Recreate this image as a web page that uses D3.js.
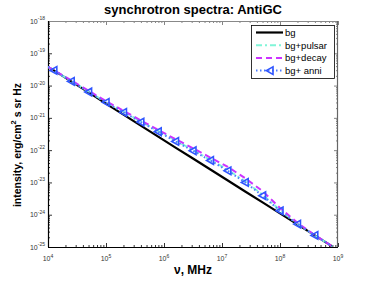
<!DOCTYPE html>
<html>
<head>
<meta charset="utf-8">
<script src="https://cdn.jsdelivr.net/npm/d3@7"></script>
<style>
  body { margin: 0; background: #fff; }
  svg { font-family: "Liberation Sans", Arial, sans-serif; }
</style>
</head>
<body>
<div id="chart"></div>
<script>
// frequencies, MHz
const nu = [1e4, 1.26e4, 2.51e4, 5.01e4, 1e5, 2e5, 3.98e5, 7.94e5, 1.58e6, 3.16e6,
            6.31e6, 1.26e7, 2.51e7, 5.01e7, 1e8, 2e8, 3.98e8, 7.94e8];

// intensity, erg/cm^2 s sr Hz
const bg = [3.80e-20, 2.95e-20, 1.35e-20, 6.17e-21, 2.75e-21, 1.26e-21, 5.75e-22, 2.63e-22, 1.20e-22, 5.50e-23,
            2.51e-23, 1.15e-23, 5.25e-24, 2.40e-24, 1.10e-24, 5.01e-25, 2.29e-25, 1.05e-25];
const bgPulsar = [3.80e-20, 2.95e-20, 1.38e-20, 6.46e-21, 3.09e-21, 1.55e-21, 7.76e-22, 3.89e-22, 2.00e-22, 1.00e-22,
                  5.01e-23, 2.45e-23, 1.07e-23, 4.17e-24, 1.38e-24, 5.25e-25, 2.29e-25, 1.05e-25];
const bgDecay = [3.80e-20, 3.02e-20, 1.45e-20, 6.92e-21, 3.31e-21, 1.66e-21, 8.32e-22, 4.27e-22, 2.19e-22, 1.15e-22,
                 5.89e-23, 3.02e-23, 1.35e-23, 5.37e-24, 1.62e-24, 5.62e-25, 2.34e-25, 1.05e-25];
const bgAnni = [3.80e-20, 2.95e-20, 1.35e-20, 6.31e-21, 3.02e-21, 1.48e-21, 7.41e-22, 3.72e-22, 1.86e-22, 9.55e-23,
                4.79e-23, 2.29e-23, 1.00e-23, 3.89e-24, 1.32e-24, 5.13e-25, 2.29e-25, 1.05e-25];

const seriesNames = ["bg", "bg+pulsar", "bg+decay", "bg+ anni"];
const xTickExp = [4, 5, 6, 7, 8, 9];
const yTickExp = [-18, -19, -20, -21, -22, -23, -24, -25];

const width = 374, height = 281;
const margin = {top: 21, right: 36, bottom: 34, left: 48};

const svg = d3.select("#chart").append("svg")
    .attr("width", width)
    .attr("height", height);

const x = d3.scaleLog().domain([1e4, 1e9]).range([margin.left, width - margin.right]);
const y = d3.scaleLog().domain([1e-25, 1e-18]).range([height - margin.bottom, margin.top]);

const x0 = x.range()[0], x1 = x.range()[1];
const y0 = y.range()[0], y1 = y.range()[1];

// minor tick values for log axes
function minors(lo, hi) {
  let out = [];
  for (let e = lo; e < hi; e++) {
    for (let k = 2; k <= 9; k++) out.push(k * Math.pow(10, e));
  }
  return out;
}
const xMajor = xTickExp.map(e => Math.pow(10, e));
const yMajor = yTickExp.map(e => Math.pow(10, e));

// ticks (inward, on all four sides)
function tickAxis(axisFn, scale, vals, size, tx, ty, color) {
  const g = svg.append("g")
      .attr("transform", "translate(" + tx + "," + ty + ")")
      .call(axisFn(scale).tickValues(vals).tickSize(size).tickFormat(""));
  g.select(".domain").remove();
  g.selectAll(".tick line").attr("stroke", color).attr("stroke-width", 0.8);
  return g;
}
tickAxis(d3.axisBottom, x, minors(4, 9), -2, 0, y0, "#000");
tickAxis(d3.axisBottom, x, xMajor, -4, 0, y0, "#000");
tickAxis(d3.axisTop, x, minors(4, 9), -2, 0, y1, "#666");
tickAxis(d3.axisTop, x, xMajor, -4, 0, y1, "#666");
tickAxis(d3.axisLeft, y, minors(-25, -18), -2, x0, 0, "#000");
tickAxis(d3.axisLeft, y, yMajor, -4, x0, 0, "#000");
tickAxis(d3.axisRight, y, minors(-25, -18), -2, x1, 0, "#666");
tickAxis(d3.axisRight, y, yMajor, -4, x1, 0, "#666");

// box
svg.append("line").attr("x1", x0).attr("x2", x1).attr("y1", y1 + 0.5).attr("y2", y1 + 0.5)
  .attr("stroke", "#888").attr("stroke-width", 1.2);
svg.append("line").attr("x1", x1 - 0.5).attr("x2", x1 - 0.5).attr("y1", y1).attr("y2", y0)
  .attr("stroke", "#666").attr("stroke-width", 1.2);
svg.append("line").attr("x1", x0).attr("x2", x1).attr("y1", y0 + 0.5).attr("y2", y0 + 0.5)
  .attr("stroke", "#000").attr("stroke-width", 1.2);
svg.append("line").attr("x1", x0 + 0.5).attr("x2", x0 + 0.5).attr("y1", y1).attr("y2", y0)
  .attr("stroke", "#000").attr("stroke-width", 1.2);

// tick labels with superscripts
xTickExp.forEach(e => {
  const t = svg.append("text")
      .attr("x", x(Math.pow(10, e)))
      .attr("y", y0 + 14)
      .attr("text-anchor", "middle")
      .attr("font-size", 7)
      .attr("fill", "#333");
  t.append("tspan").text("10");
  t.append("tspan").attr("font-size", 5).attr("dy", -3).text(e);
});
yTickExp.forEach(e => {
  const t = svg.append("text")
      .attr("x", x0 - 3)
      .attr("y", y(Math.pow(10, e)) + 2.5)
      .attr("text-anchor", "end")
      .attr("font-size", 7)
      .attr("fill", "#333");
  t.append("tspan").text("10");
  t.append("tspan").attr("font-size", 5).attr("dy", -3.5).text(e);
});

// clip to the axes
svg.append("clipPath").attr("id", "clip")
  .append("rect").attr("x", x0).attr("y", y1).attr("width", x1 - x0).attr("height", y0 - y1);

const line = d3.line()
    .x(d => x(d[0]))
    .y(d => y(d[1]));

const styles = [
  {data: bg, color: "#000", width: 2.2, dash: null},
  {data: bgPulsar, color: "#80f5d8", width: 2, dash: "6,3,2,3"},
  {data: bgDecay, color: "#cc33ff", width: 2, dash: "6,4"},
  {data: bgAnni, color: "#4d7bff", width: 2, dash: "1.5,2.5"}
];

const plot = svg.append("g").attr("clip-path", "url(#clip)");

styles.forEach(s => {
  plot.append("path")
    .datum(nu.map((v, j) => [v, s.data[j]]))
    .attr("fill", "none")
    .attr("stroke", s.color)
    .attr("stroke-width", s.width)
    .attr("stroke-dasharray", s.dash)
    .attr("d", line);
});

// triangle markers '<' on the anni curve
const tri = "M-3.8,0L3,-3.8L3,3.8Z";
plot.selectAll(".mk")
  .data(nu.map((v, j) => [v, bgAnni[j]]).slice(1, nu.length - 1))
  .enter().append("path")
    .attr("class", "mk")
    .attr("transform", d => "translate(" + x(d[0]) + "," + y(d[1]) + ")")
    .attr("d", tri)
    .attr("fill", "none")
    .attr("stroke", "#2f55ff")
    .attr("stroke-width", 1.6);

// title and axis labels
svg.append("text")
  .attr("x", (x0 + x1) / 2)
  .attr("y", 14)
  .attr("text-anchor", "middle")
  .attr("font-size", 13)
  .attr("font-weight", "bold")
  .text("synchrotron spectra: AntiGC");

svg.append("text")
  .attr("x", (x0 + x1) / 2)
  .attr("y", 274)
  .attr("text-anchor", "middle")
  .attr("font-size", 12)
  .attr("font-weight", "bold")
  .text("ν, MHz");

const yl = svg.append("text")
  .attr("transform", "translate(21," + 145 + ") rotate(-90)")
  .attr("text-anchor", "middle")
  .attr("font-size", 10.5)
  .attr("font-weight", "bold");
yl.append("tspan").text("intensity, erg/cm");
yl.append("tspan").attr("font-size", 7.5).attr("dy", -5).text("2");
yl.append("tspan").attr("dy", 5).text(" s sr Hz");

// legend
const lg = svg.append("g").attr("transform", "translate(251,25)");
lg.append("rect")
  .attr("x", 0.5).attr("y", 0.5)
  .attr("width", 83).attr("height", 53)
  .attr("fill", "#fff")
  .attr("stroke", "#000")
  .attr("stroke-width", 0.8);

seriesNames.forEach((name, i) => {
  const s = styles[i];
  const cy = 7.5 + i * 12.7;
  lg.append("line")
    .attr("x1", 5).attr("x2", 32)
    .attr("y1", cy).attr("y2", cy)
    .attr("stroke", s.color)
    .attr("stroke-width", s.width)
    .attr("stroke-dasharray", s.dash);
  if (i === 3) {
    lg.append("path")
      .attr("transform", "translate(19," + cy + ")")
      .attr("d", tri)
      .attr("fill", "none")
      .attr("stroke", "#2f55ff")
      .attr("stroke-width", 1.6);
  }
  lg.append("text")
    .attr("x", 34)
    .attr("y", cy + 3.3)
    .attr("font-size", 9.5)
    .text(name);
});
</script>
</body>
</html>
